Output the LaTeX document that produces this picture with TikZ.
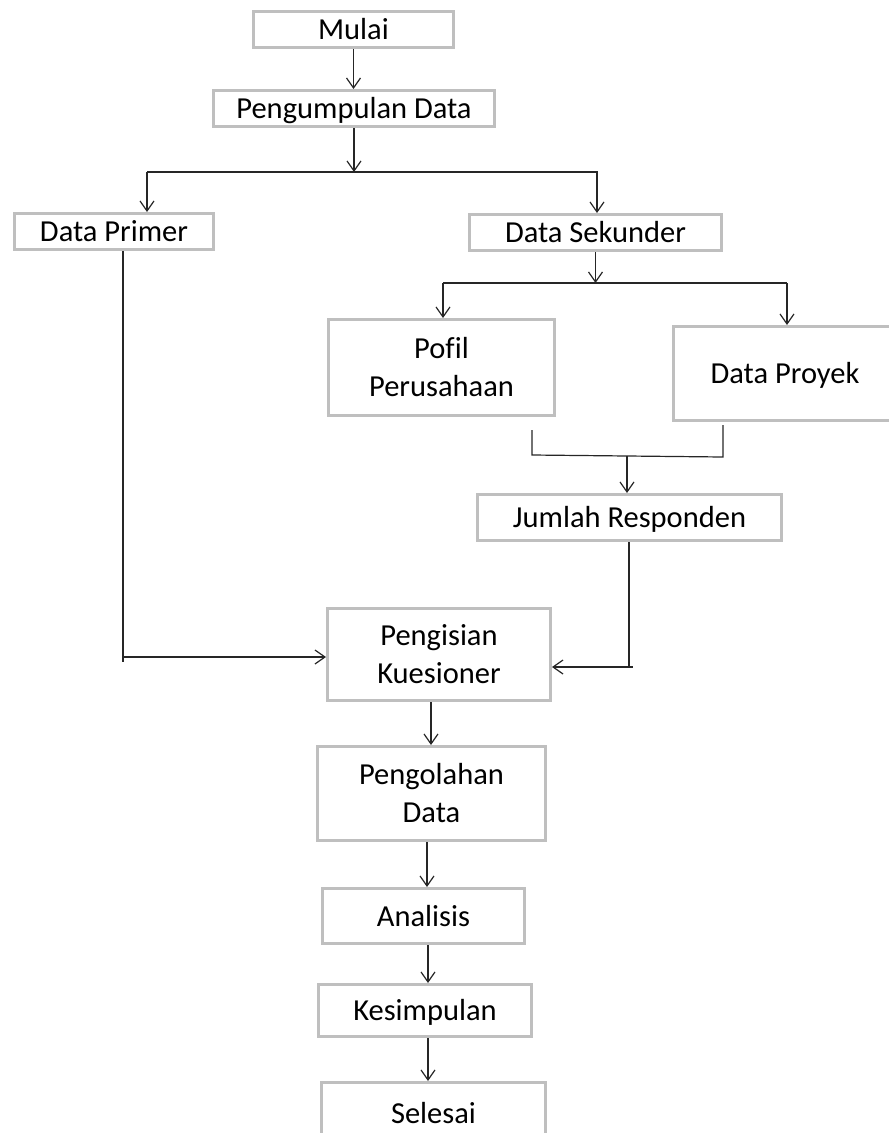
\documentclass[tikz,border=0pt]{standalone}
\usepackage{fontspec}
\setmainfont{Carlito}[Ligatures=NoCommon]
\usetikzlibrary{arrows.meta}
\definecolor{boxgray}{HTML}{BFBFBF}
\definecolor{linegray}{HTML}{262626}
\begin{document}
\begin{tikzpicture}[x=1pt,y=-1pt,
  box/.style={draw=boxgray,line width=3pt,inner sep=0pt,fill=white,
    font=\fontsize{30.5}{38}\selectfont,align=center},
  one/.style={box,text height=25pt,text depth=5pt},
  conn/.style={line width=1.2pt,draw=linegray},
  arr/.style={conn,-{Straight Barb[length=10pt,width=14pt,line width=1.2pt]}},
]
\useasboundingbox (0,0) rectangle (889,1133);
\clip (0,0) rectangle (889,1133);

% boxes
\node[one,minimum width=200pt,minimum height=36pt] (mulai) at (353.5,29.5) {Mulai};
\node[one,minimum width=281pt,minimum height=36pt] (pd) at (354,108.5) {Pengumpulan Data};
\node[one,minimum width=199pt,minimum height=36pt] (dp) at (114,231.5) {Data Primer};
\node[one,minimum width=252pt,minimum height=36pt] (ds) at (595.5,232.5) {Data Sekunder};
\node[box,minimum width=226pt,minimum height=96pt] (pofil) at (441.5,367.5) {Pofil\\Perusahaan};
\node[one,minimum width=223pt,minimum height=94pt] (proyek) at (785,373.5) {Data Proyek};
\node[one,minimum width=304pt,minimum height=46pt] (jumlah) at (629.5,517.5) {Jumlah Responden};
\node[box,minimum width=223pt,minimum height=92pt] (pgs) at (439,654.5) {Pengisian\\Kuesioner};
\node[box,minimum width=228pt,minimum height=94pt] (pgl) at (431.5,793.5) {Pengolahan\\Data};
\node[one,minimum width=202pt,minimum height=55pt] (analisis) at (423.5,916) {Analisis};
\node[one,minimum width=213pt,minimum height=52pt] (kesimpulan) at (425,1010.5) {Kesimpulan};
\node[one,minimum width=224pt,minimum height=61pt] (selesai) at (433.5,1113) {Selesai};

% junction coordinates
\coordinate (j1) at (354,172);
\coordinate (jL) at (147,172);
\coordinate (jR) at (597,172);
\coordinate (j2) at (596,283);
\coordinate (jA) at (443,283);
\coordinate (jB) at (787,283);
\coordinate (p1) at (532,430);
\coordinate (p2) at (532,455);
\coordinate (q1) at (723,425);
\coordinate (q2) at (723,457);
\coordinate (m) at (627,456);
\coordinate (r1) at (629,667);
\coordinate (l1) at (123,657);

% connectors
\draw[arr] (mulai.south) -- (mulai.south |- pd.north);
\draw[arr] (pd.south) -- (j1);
\draw[conn] (jL) -- ([xshift=1pt]jR);
\draw[arr] (jL) -- (jL |- dp.north);
\draw[arr] (jR) -- (jR |- ds.north);
\draw[arr] (ds.south) -- (ds.south |- j2);
\draw[conn] (jA) -- (jB);
\draw[arr] (jA) -- (jA |- pofil.north);
\draw[arr] (jB) -- (jB |- proyek.north);
\draw[conn] (p1) -- (p2) -- (q2) -- (q1);
\draw[arr] (m) -- (m |- jumlah.north);
\draw[arr] (jumlah.south -| r1) -- (r1) -- (r1 -| pgs.east);
\draw[conn] (r1) -- ++(4,0);
\draw[arr] (dp.south -| l1) -- (l1) -- (l1 -| pgs.west);
\draw[conn] (l1) -- ++(0,5);
\draw[arr] ([xshift=-8pt]pgs.south) -- ([xshift=-8pt]pgs.south |- pgl.north);
\draw[arr] ([xshift=-4.5pt]pgl.south) -- ([xshift=-4.5pt]pgl.south |- analisis.north);
\draw[arr] ([xshift=4.5pt]analisis.south) -- ([xshift=4.5pt]analisis.south |- kesimpulan.north);
\draw[arr] ([xshift=3pt]kesimpulan.south) -- ([xshift=3pt]kesimpulan.south |- selesai.north);
\end{tikzpicture}
\end{document}
